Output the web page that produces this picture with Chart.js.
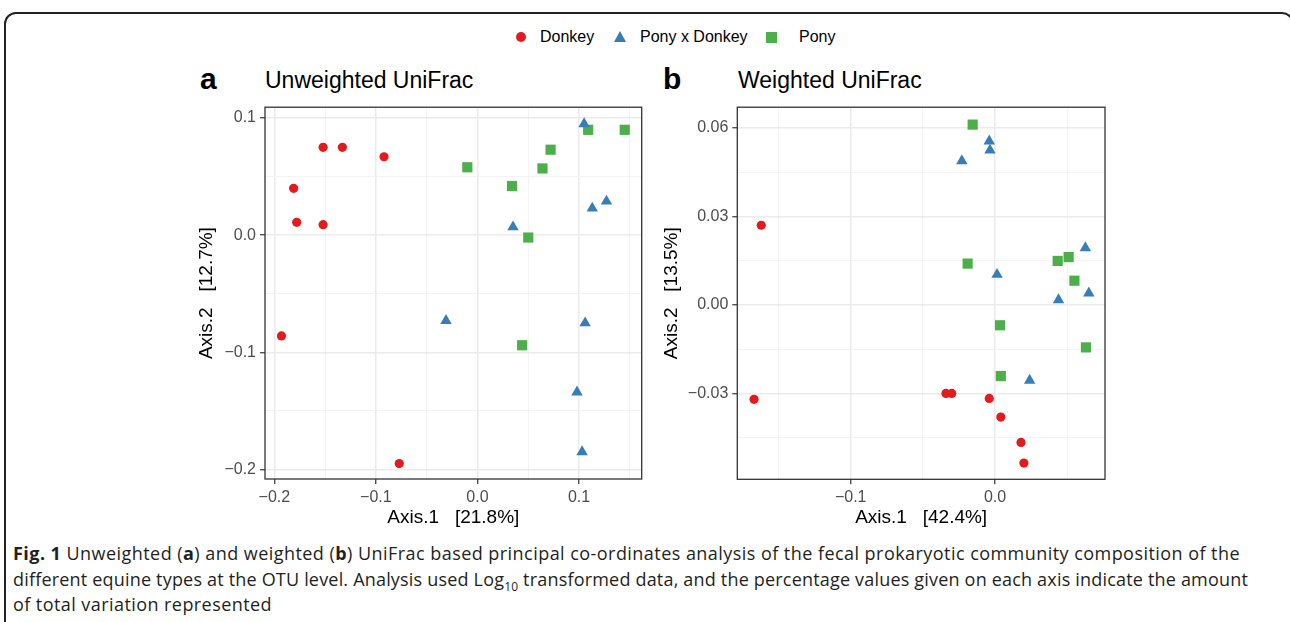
<!DOCTYPE html>
<html>
<head>
<meta charset="utf-8">
<script src="https://cdn.jsdelivr.net/npm/chart.js@4.4.1/dist/chart.umd.min.js"></script>
<style>
  body { margin: 0; width: 1290px; height: 622px; overflow: hidden; position: relative; background: #fff;
         font-family: "Liberation Sans", Arial, sans-serif; }
  #frame { position: absolute; left: 4px; top: 12px; width: 1290px; height: 660px; box-sizing: border-box;
           border: 2px solid #222; border-bottom: none; border-radius: 12px 12px 0 0; }
  .lg { position: absolute; font-size: 16px; line-height: 20px; top: 27px; color: #000; white-space: nowrap; }
  .sym { position: absolute; }
  .letter { position: absolute; font-weight: bold; font-size: 30px; line-height: 34px; top: 62px; }
  .ptitle { position: absolute; font-size: 23px; line-height: 28px; top: 66px; }
  canvas { position: absolute; }
  #caption { position: absolute; left: 13px; top: 541px; font-family: "Open Sans", "Noto Sans", sans-serif; font-size: 18px;
             line-height: 25.5px; color: #231f20; white-space: nowrap; }
  #caption span { display: block; }
</style>
</head>
<body>
<div id="frame"></div>

<!-- legend -->
<div class="sym" style="left:516px;top:32px;width:10px;height:10px;border-radius:50%;background:#e41a1c"></div>
<div class="lg" style="left:540px">Donkey</div>
<div class="sym" style="left:614px;top:31px;width:0;height:0;border-left:6.5px solid transparent;border-right:6.5px solid transparent;border-bottom:11px solid #377eb8"></div>
<div class="lg" style="left:640px">Pony x Donkey</div>
<div class="sym" style="left:766px;top:32px;width:11px;height:11px;background:#4daf4a"></div>
<div class="lg" style="left:799px">Pony</div>

<div class="letter" style="left:200px">a</div>
<div class="ptitle" style="left:265px">Unweighted UniFrac</div>
<div class="letter" style="left:663px">b</div>
<div class="ptitle" style="left:738px">Weighted UniFrac</div>

<canvas id="chartA" width="465" height="435" style="left:185px;top:100px;width:465px;height:435px"></canvas>
<canvas id="chartB" width="470" height="435" style="left:645px;top:100px;width:470px;height:435px"></canvas>

<div id="caption">
<span data-w="1227"><b>Fig. 1</b> Unweighted (<b>a</b>) and weighted (<b>b</b>) UniFrac based principal co-ordinates analysis of the fecal prokaryotic community composition of the</span>
<span data-w="1235">different equine types at the OTU level. Analysis used Log<sub style="font-size:12px;line-height:0">10</sub> transformed data, and the percentage values given on each axis indicate the amount</span>
<span data-w="259">of total variation represented</span>
</div>

<script>
// panel a: unweighted UniFrac  [Axis.1, Axis.2]
const donkeyA = [[-0.152, 0.075], [-0.133, 0.075], [-0.092, 0.067], [-0.181, 0.040], [-0.178, 0.011],
                 [-0.152, 0.009], [-0.193, -0.086], [-0.077, -0.195]];
const crossA = [[0.105, 0.095], [0.035, 0.007], [0.113, 0.023], [0.127, 0.029], [-0.031, -0.073],
                [0.106, -0.075], [0.098, -0.134], [0.103, -0.185]];
const ponyA = [[-0.010, 0.058], [0.034, 0.042], [0.050, -0.002], [0.064, 0.057], [0.072, 0.073],
               [0.109, 0.090], [0.145, 0.090], [0.044, -0.094]];

// panel b: weighted UniFrac
const donkeyB = [[-0.162, 0.027], [-0.167, -0.032], [-0.034, -0.030], [-0.030, -0.030], [-0.004, -0.0317],
                 [0.004, -0.038], [0.018, -0.0466], [0.020, -0.0536]];
const crossB = [[-0.004, 0.0555], [-0.0035, 0.0524], [-0.023, 0.0488], [0.0014, 0.0103], [0.0626, 0.0193],
                [0.044, 0.0017], [0.065, 0.004], [0.024, -0.0256]];
const ponyB = [[-0.0155, 0.0611], [-0.019, 0.014], [0.0434, 0.0149], [0.051, 0.0162], [0.055, 0.0082],
               [0.0035, -0.0069], [0.063, -0.0144], [0.004, -0.0241]];

// axis ranges, breaks and titles
const xRangeA = [-0.2092, 0.1617], yRangeA = [-0.2082, 0.1093];
const xMajorA = [-0.2, -0.1, 0.0, 0.1], xMinorA = [-0.15, -0.05, 0.05, 0.15];
const yMajorA = [-0.2, -0.1, 0.0, 0.1], yMinorA = [-0.15, -0.05, 0.05];
const xRangeB = [-0.1786, 0.0762], yRangeB = [-0.0591, 0.067];
const xMajorB = [-0.1, 0.0], xMinorB = [-0.15, -0.05, 0.05];
const yMajorB = [-0.03, 0.0, 0.03, 0.06], yMinorB = [-0.045, -0.015, 0.015, 0.045];
const xTitles = ["Axis.1   [21.8%]", "Axis.1   [42.4%]"];
const yTitles = ["Axis.2   [12.7%]", "Axis.2   [13.5%]"];

const FONT = "'Liberation Sans', Arial, sans-serif";
const RED = "#e41a1c", BLUE = "#377eb8", GREEN = "#4daf4a";

const toXY = arr => arr.map(p => ({ x: p[0], y: p[1] }));
const isMajor = (list, v) => list.some(m => Math.abs(m - v) < 1e-9);
const fmt = (v, d) => (v < -1e-9 ? "\u2212" : "") + Math.abs(v).toFixed(d);

// ggplot-like panel border on top of everything
const panelBorder = {
  id: "panelBorder",
  afterDraw(chart) {
    const { ctx, chartArea: a } = chart;
    ctx.save();
    ctx.strokeStyle = "#333";
    ctx.lineWidth = 1.3;
    ctx.strokeRect(a.left, a.top, a.right - a.left, a.bottom - a.top);
    ctx.restore();
  }
};

function axis(pos, range, major, minor, digits, fit, title, titlePad) {
  return {
    type: "linear",
    position: pos,
    min: range[0],
    max: range[1],
    afterBuildTicks: s => {
      s.ticks = major.concat(minor).sort((a, b) => a - b).map(v => ({ value: v }));
    },
    afterFit: s => {
      if (pos === "left") s.width = fit; else s.height = fit;
      // labels never sit on the panel edge, so no extra room is needed for them
      s.paddingTop = s.paddingBottom = s.paddingLeft = s.paddingRight = 0;
    },
    ticks: {
      autoSkip: false,
      maxRotation: 0,
      padding: 4,
      color: "#4d4d4d",
      font: { size: 16, family: FONT },
      callback: v => (isMajor(major, v) ? fmt(v, digits) : "")
    },
    grid: {
      color: c => (isMajor(major, c.tick.value) ? "#ebebeb" : "#f3f3f3"),
      lineWidth: c => (isMajor(major, c.tick.value) ? 1.5 : 0.9),
      tickLength: 5,
      tickColor: c => (isMajor(major, c.tick.value) ? "#333" : "rgba(0,0,0,0)"),
      tickWidth: 1.2
    },
    border: { display: false },
    title: { display: true, text: title, color: "#000", font: { size: 19, family: FONT }, padding: titlePad }
  };
}

function makePanel(id, sets, x, y, padding) {
  const style = [["circle", 4.6, RED], ["triangle", 6.6, BLUE], ["rect", 7.2, GREEN]];
  new Chart(document.getElementById(id), {
    type: "scatter",
    data: {
      datasets: sets.map((s, i) => ({
        data: toXY(s),
        pointStyle: style[i][0],
        pointRadius: style[i][1],
        pointHoverRadius: style[i][1],
        pointBackgroundColor: style[i][2],
        pointBorderColor: style[i][2],
        pointBorderWidth: 0,
        clip: false
      }))
    },
    options: {
      responsive: false,
      animation: false,
      events: [],
      layout: { padding },
      plugins: { legend: { display: false }, tooltip: { enabled: false } },
      scales: { x, y }
    },
    plugins: [panelBorder]
  });
}

makePanel("chartA", [donkeyA, crossA, ponyA],
  axis("bottom", xRangeA, xMajorA, xMinorA, 1, 56, xTitles[0], { top: 0, bottom: 6 }),
  axis("left", yRangeA, yMajorA, yMinorA, 1, 80, yTitles[0], { top: 10, bottom: 0 }),
  { top: 2, right: 8.3, left: 0, bottom: 0 });

makePanel("chartB", [donkeyB, crossB, ponyB],
  axis("bottom", xRangeB, xMajorB, xMinorB, 1, 55.7, xTitles[1], { top: 0, bottom: 6 }),
  axis("left", yRangeB, yMajorB, yMinorB, 2, 92.3, yTitles[1], { top: 15, bottom: 0 }),
  { top: 2.3, right: 10, left: 0, bottom: 0 });

// stretch caption lines to the widths of the printed figure legend
document.querySelectorAll("#caption span").forEach(line => {
  const r = document.createRange();
  r.selectNodeContents(line);
  const w = r.getBoundingClientRect().width;
  const n = line.textContent.length;
  line.style.letterSpacing = ((+line.dataset.w - w) / n).toFixed(3) + "px";
});
</script>
</body>
</html>
